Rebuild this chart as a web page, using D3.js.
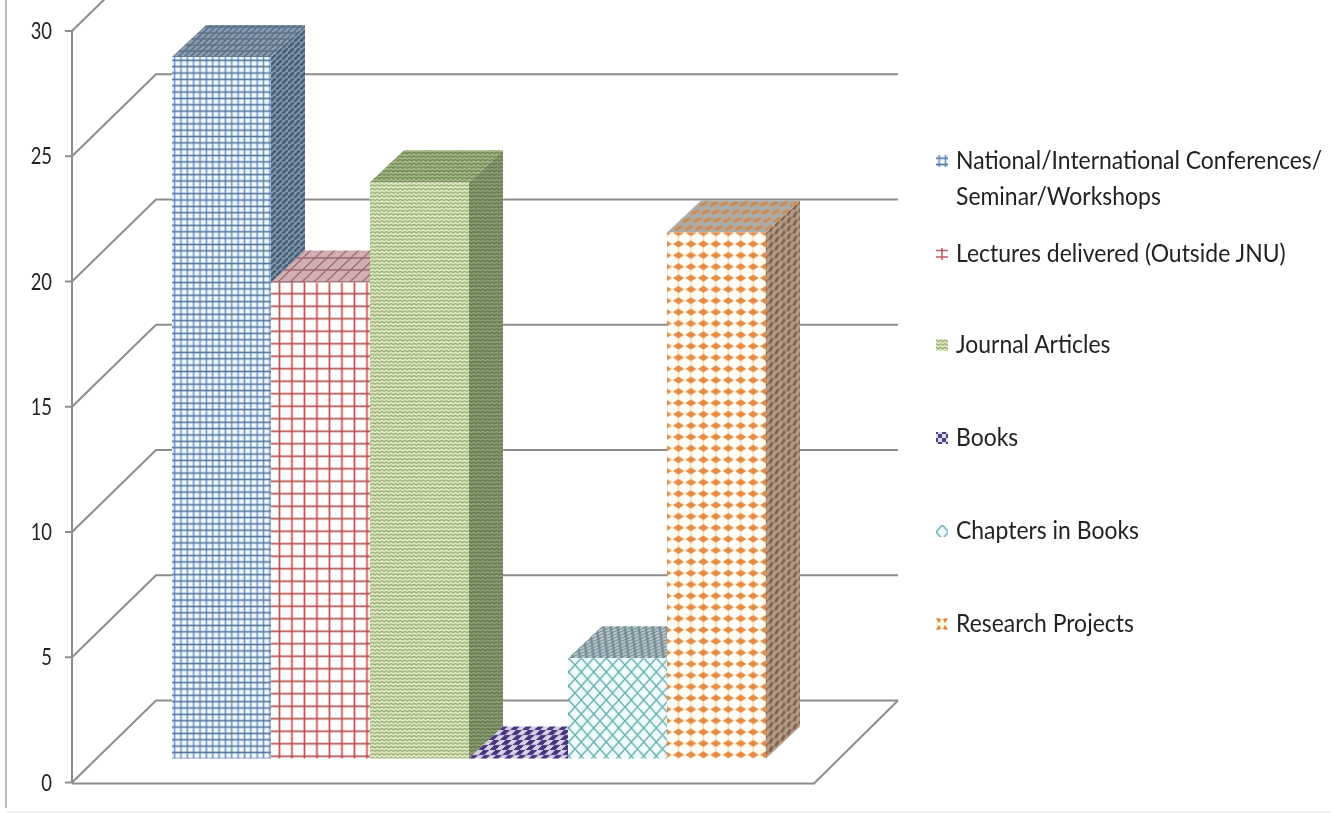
<!DOCTYPE html>
<html><head><meta charset="utf-8">
<script src="https://cdn.jsdelivr.net/npm/d3@7"></script>
<style>html,body{margin:0;padding:0;background:#fff}svg{display:block}text{font-family:Lato,sans-serif;fill:#222}</style>
</head><body><svg id="c" width="1331" height="813"></svg>
<script>
const categories=["National/International Conferences/\nSeminar/Workshops","Lectures delivered (Outside JNU)","Journal Articles","Books","Chapters in Books","Research Projects"];
const values=[28,19,23,0,4,21];
const yTicks=[0,5,10,15,20,25,30];
const legendY=[161,254,345,438,531,624];

const svg=d3.select("#c"),defs=svg.append("defs");
const f=defs.append("filter").attr("id","soft").attr("x","-5%").attr("y","-5%").attr("width","110%").attr("height","110%");
f.append("feGaussianBlur").attr("stdDeviation",0.55);
const ft=defs.append("filter").attr("id","softT").attr("filterUnits","userSpaceOnUse").attr("x",0).attr("y",0).attr("width",1331).attr("height",813);
ft.append("feGaussianBlur").attr("stdDeviation",0.35);

const y=d3.scaleLinear().domain([0,30]).range([782.5,31]);
const x=d3.scaleBand().domain(categories).range([172,766]);
const axisX=72,floorRight=814,depthX=84,depthY=82,rightEnd=898;
const barBase=758.5,barDX=34,barDY=32,unit=y(0)-y(1);

function pat(id,w,h,bg,draw,tf){
  const p=defs.append("pattern").attr("id",id).attr("patternUnits","userSpaceOnUse").attr("width",w).attr("height",h);
  if(tf)p.attr("patternTransform",tf);
  p.append("rect").attr("width",w).attr("height",h).attr("fill",bg);
  draw(p);
}
const ln=(p,a,b,c,d,col,sw)=>p.append("line").attr("x1",a).attr("y1",b).attr("x2",c).attr("y2",d).attr("stroke",col).attr("stroke-width",sw);
const poly=(p,pts,col)=>p.append("polygon").attr("points",pts).attr("fill",col);
const grid=(id,s,bg,cv,ch,sw,tf)=>pat(id,s,s,bg,p=>{ln(p,s/2,0,s/2,s,cv,sw);ln(p,0,s/2,s,s/2,ch,sw)},tf);
const zig=(id,w,h,bg,col,sw,tf)=>pat(id,w,h,bg,p=>{
  p.append("path").attr("d",`M0,${h*.25}L${w/2},${h*.75}L${w},${h*.25}`).attr("fill","none").attr("stroke",col).attr("stroke-width",sw);
},tf);
const skew="skewX(-46)";
const skewS="skewY(-43)";

grid("f0",6.35,"#f2f8fd","#6a98d2","#57769a",1.6);
grid("t0",6,"#8a9cb0","#4d6078","#5f7288",1.6,skew);
pat("s0",6,6,"#7d93a8",p=>{ln(p,0,6,6,0,"#4a5e74",2.4)});

grid("f1",12.5,"#ffffff","#cf4a4a","#b54f4f",1.7,"translate(-1.8,0)");
grid("t1",12,"#d3aeb0","#80555a","#9c6a70",1.4,skew);
pat("s1",6,6,"#a88",p=>{});

zig("f2",4.6,3.6,"#e9f1c8","#90a873",1.35);
zig("t2",4.6,3.6,"#b0c291","#6c8652",1.5);
zig("s2",4.6,3.6,"#94a67d","#667a4f",1.6);

pat("f3",6,6,"#47357f",p=>{});
pat("s3",6,6,"#47357f",p=>{});
pat("t3",12,10,"#d8cfe4",p=>{
  poly(p,"0,0 6,0 6,5 0,5","#47357f");poly(p,"6,5 12,5 12,10 6,10","#47357f");
},skew);

pat("f4",12.5,14,"#eefafc",p=>{
  p.append("path").attr("d","M6.25,0L12.5,7L6.25,14L0,7Z").attr("fill","none").attr("stroke","#68b0ae").attr("stroke-width",1.4);
});
pat("s4",6,6,"#8fb",p=>{});
pat("t4",7,6,"#b8c6cc",p=>{
  p.append("path").attr("d","M3.5,0L7,3L3.5,6L0,3Z").attr("fill","none").attr("stroke","#6f8791").attr("stroke-width",1.4);
},skew);

pat("f5",12.45,11.35,"#fffdf6",p=>{
  ln(p,6.2,0,6.2,11.35,"#f8dcb4",1.4);
  poly(p,"6.2,2.2 11.8,5.7 6.2,9.2 0.6,5.7","#e58c42");
});
pat("t5",10,8,"#a9aca8",p=>{
  poly(p,"5,0.8 9,4 5,7.2 1,4","#cf8a52");
},skew);
pat("s5",6,8,"#b39a84",p=>{
  poly(p,"3,1 6,4 3,7 0,4","#7f6250");
},skewS);

// legend marker swatches, one tile per key
const fronts=["f0","f1","f2","f3","f4","f5"],tops=["t0","t1","t2","t3","t4","t5"],sides=["s0","s1","s2","s3","s4","s5"];
pat("m1",12,12,"#fff",p=>{
  ln(p,0,2.5,12,2.5,"#b5605f",1.5);ln(p,0,9,12,9,"#b5605f",1.5);ln(p,6,0,6,12,"#c85050",1.5);
});
pat("m3",8,8,"#e2dcea",p=>{
  poly(p,"0,0 4,0 4,4 0,4","#4f3f86");poly(p,"4,4 8,4 8,8 4,8","#4f3f86");
},"translate(2,2)");
pat("m5",12,12,"#fdf3df",p=>{
  poly(p,"0,0 5,1 3,5","#d9803c");poly(p,"12,0 7,1 9,5","#d9803c");poly(p,"0,12 5,11 3,7","#d9803c");poly(p,"12,12 7,11 9,7","#d9803c");
});
const markers=["f0","m1","f2","m3","f4","m5"];

// page border
svg.append("line").attr("x1",6).attr("y1",0).attr("x2",6).attr("y2",808).attr("stroke","#a9a9a9").attr("stroke-width",1.5);
svg.append("line").attr("x1",6).attr("y1",812).attr("x2",1331).attr("y2",812).attr("stroke","#e4e4e4").attr("stroke-width",1);

// walls and floor
const grey="#8c8c8c";
const walls=svg.append("g").attr("fill","none").attr("stroke",grey).attr("stroke-width",2).attr("filter","url(#softT)");
yTicks.forEach(t=>{
  const yy=y(t);
  walls.append("line").attr("x1",axisX-7).attr("y1",yy).attr("x2",axisX).attr("y2",yy);
  walls.append("polyline").attr("points",[[axisX,yy],[axisX+depthX,yy-depthY],[rightEnd,yy-depthY]].map(String).join(" "));
});
walls.append("line").attr("x1",axisX).attr("y1",y(0)).attr("x2",axisX).attr("y2",y(30));
walls.append("polyline").attr("points",[[axisX,y(0)+1],[floorRight,y(0)+1],[rightEnd,y(0)-depthY]].map(String).join(" "));

// tick labels
svg.append("g").attr("filter","url(#softT)").selectAll("text").data(yTicks).join("text")
  .attr("transform",d=>`translate(52,${y(d)+8}) scale(.8,1)`).attr("text-anchor","end").attr("font-size",23).text(d=>d);

// bars
const bars=svg.append("g").attr("filter","url(#soft)");
categories.forEach((c,i)=>{
  const x0=x(c),w=x.bandwidth(),h=values[i]*unit,t=barBase-h;
  const g=bars.append("g");
  if(h>0){
    g.append("polygon").attr("points",[[x0+w,t],[x0+w+barDX,t-barDY],[x0+w+barDX,barBase-barDY],[x0+w,barBase]].map(String).join(" ")).attr("fill",`url(#${sides[i]})`);
  }
  g.append("polygon").attr("points",[[x0,t],[x0+barDX,t-barDY],[x0+w+barDX,t-barDY],[x0+w,t]].map(String).join(" ")).attr("fill",`url(#${tops[i]})`);
  if(h>0) g.append("rect").attr("x",x0).attr("y",t).attr("width",w).attr("height",h).attr("fill",`url(#${fronts[i]})`);
});

// legend
const lg=svg.append("g").attr("filter","url(#softT)").selectAll("g").data(categories).join("g");
lg.each(function(c,i){
  const g=d3.select(this),cy=legendY[i];
  g.append("rect").attr("transform",`translate(936,${cy-6})`).attr("width",12).attr("height",12).attr("fill",`url(#${markers[i]})`);
  c.split("\n").forEach((l,j)=>g.append("text").attr("transform",`translate(956,${cy+8+j*36}) scale(.918,1)`).attr("font-size",25).text(l));
});
</script></body></html>
